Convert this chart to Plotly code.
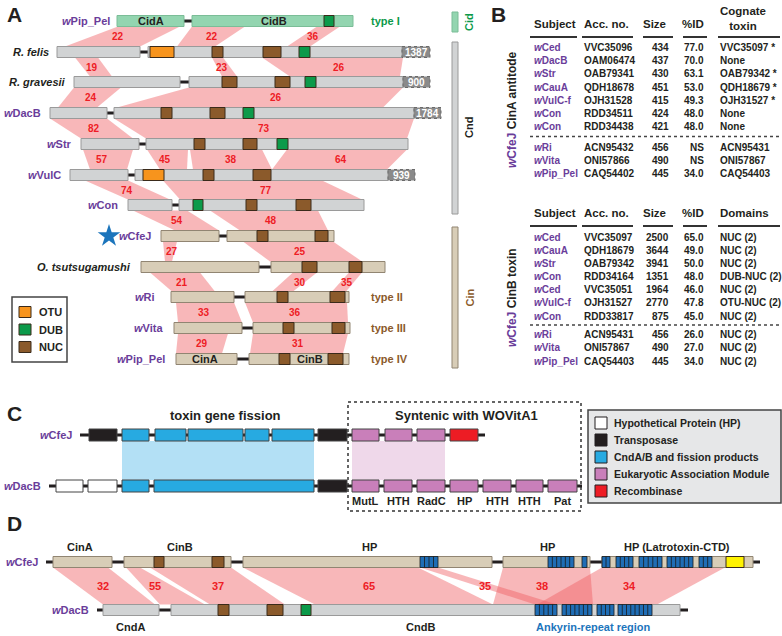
import plotly.graph_objects as go

# ---------------- DATA ----------------
# Panel A: rows (label, is_wolbachia, family)
A_names = ["<i>w</i>Pip_Pel", "<i>R. felis</i>", "<i>R. gravesii</i>", "<i>w</i>DacB", "<i>w</i>Str",
           "<i>w</i>VulC", "<i>w</i>Con", "<i>w</i>CfeJ", "<i>O. tsutsugamushi</i>", "<i>w</i>Ri",
           "<i>w</i>Vita", "<i>w</i>Pip_Pel"]
A_wol = [1, 0, 0, 1, 1, 1, 1, 1, 0, 1, 1, 1]
A_family = ["cid", "cnd", "cnd", "cnd", "cnd", "cnd", "cnd", "cin", "cin", "cin", "cin", "cin"]
A_rowpos = [21, 52, 82, 113, 144, 175, 205, 236, 267, 297, 328, 359]
A_label_gap = [5, 6, 6, 7, 7, 7, 8, 8, 8, 14, 9, 9]
# genes: (row, start, end)
A_genes = [(0, 117, 184), (0, 192, 353), (1, 57, 140), (1, 148, 402), (2, 74, 180), (2, 189, 403),
           (3, 50, 107), (3, 114, 414), (4, 81, 139), (4, 146, 408), (5, 70, 128), (5, 135, 388),
           (6, 128, 172), (6, 179, 364), (7, 161, 219), (7, 227, 334), (8, 141, 259), (8, 271, 385),
           (9, 171, 234), (9, 245, 349), (10, 174, 242), (10, 253, 350), (11, 176, 237), (11, 249, 349)]
A_gene_names = [(0, 151, "CidA"), (0, 274, "CidB"), (11, 205, "CinA"), (11, 310, "CinB")]
# domains: (row, start, end, type)
A_domains = [(0, 324, 334, "DUB"),
             (1, 150, 174, "OTU"), (1, 212, 223, "NUC"), (1, 263, 281, "NUC"), (1, 299, 310, "DUB"),
             (2, 222, 237, "NUC"), (2, 275, 290, "NUC"), (2, 305, 316, "DUB"),
             (3, 161, 172, "NUC"), (3, 210, 225, "NUC"), (3, 243, 254, "DUB"),
             (4, 194, 205, "NUC"), (4, 243, 257, "NUC"), (4, 277, 288, "DUB"),
             (5, 143, 164, "OTU"), (5, 203, 214, "NUC"), (5, 253, 271, "NUC"),
             (6, 193, 203, "DUB"), (6, 246, 257, "NUC"), (6, 296, 311, "NUC"),
             (7, 257, 268, "NUC"), (7, 315, 328, "NUC"),
             (8, 302, 317, "NUC"), (8, 349, 362, "NUC"),
             (9, 277, 288, "NUC"), (9, 330, 345, "NUC"),
             (10, 283, 294, "NUC"), (10, 332, 345, "NUC"),
             (11, 279, 290, "NUC"), (11, 328, 343, "NUC")]
A_sizes = [(1, 402, 430, "1387"), (2, 403, 430, "900"), (3, 414, 441, "1784"), (5, 388, 415, "939")]
# links between consecutive rows: (top row, top x0, top x1, bottom x0, bottom x1, %id, label x)
A_links = [(0, 118, 180, 65, 140, 22, 118), (0, 192, 245, 177, 215, 22, 212), (0, 317, 340, 287, 310, 36, 313),
           (1, 75, 98, 90, 112, 19, 92), (1, 212, 223, 222, 237, 23, 222), (1, 262, 403, 290, 400, 26, 339),
           (2, 74, 121, 58, 97, 24, 91), (2, 189, 403, 117, 383, 26, 276),
           (3, 50, 107, 81, 133, 82, 94), (3, 114, 414, 146, 407, 73, 264),
           (4, 83, 133, 90, 127, 57, 102), (4, 147, 188, 160, 187, 45, 165),
           (4, 190, 262, 193, 272, 38, 231), (4, 287, 407, 272, 387, 64, 341),
           (5, 85, 128, 128, 170, 74, 127), (5, 163, 322, 180, 362, 77, 266),
           (6, 133, 187, 175, 219, 54, 177), (6, 210, 318, 240, 328, 48, 271),
           (7, 163, 177, 165, 172, 27, 172), (7, 243, 333, 270, 362, 25, 300),
           (8, 150, 200, 172, 215, 21, 182), (8, 293, 317, 272, 293, 30, 300), (8, 349, 362, 332, 346, 35, 347),
           (9, 176, 234, 178, 242, 33, 204), (9, 245, 347, 253, 348, 36, 295),
           (10, 178, 228, 176, 222, 29, 202), (10, 253, 348, 250, 343, 31, 298)]
A_types = [(0, "type I", "cid"), (9, "type II", "cin"), (10, "type III", "cin"), (11, "type IV", "cin")]

# Panel B tables
B1_subject = ["wCed", "wDacB", "wStr", "wCauA", "wVulC-f", "wCon", "wCon", "wRi", "wVita", "wPip_Pel"]
B1_acc = ["VVC35096", "OAM06474", "OAB79341", "QDH18678", "OJH31528", "RDD34511", "RDD34438",
          "ACN95432", "ONI57866", "CAQ54402"]
B1_size = [434, 437, 430, 451, 415, 424, 421, 456, 490, 445]
B1_id = ["77.0", "70.0", "63.1", "53.0", "49.3", "48.0", "48.0", "NS", "NS", "34.0"]
B1_cog = ["VVC35097 *", "None", "OAB79342 *", "QDH18679 *", "OJH31527 *", "None", "None",
          "ACN95431", "ONI57867", "CAQ54403"]
B2_subject = ["wCed", "wCauA", "wStr", "wCon", "wCed", "wVulC-f", "wCon", "wRi", "wVita", "wPip_Pel"]
B2_acc = ["VVC35097", "QDH18679", "OAB79342", "RDD34164", "VVC35051", "OJH31527", "RDD33817",
          "ACN95431", "ONI57867", "CAQ54403"]
B2_size = [2500, 3644, 3941, 1351, 1964, 2770, 875, 456, 490, 445]
B2_id = ["65.0", "49.0", "50.0", "48.0", "46.0", "47.8", "45.0", "26.0", "27.0", "34.0"]
B2_dom = ["NUC (2)", "NUC (2)", "NUC (2)", "DUB-NUC (2)", "NUC (2)", "OTU-NUC (2)", "NUC (2)",
          "NUC (2)", "NUC (2)", "NUC (2)"]

# Panel C
C_names = ["<i>w</i>CfeJ", "<i>w</i>DacB"]
C_rowpos = [435, 486]
C_lines = [(0, 80, 485), (1, 49, 582)]
C_genes = [(0, 89, 117, "T"), (0, 122, 149, "B"), (0, 155, 186, "B"), (0, 188, 243, "B"), (0, 245, 269, "B"),
           (0, 272, 314, "B"), (0, 318, 347, "T"), (0, 352, 379, "E"), (0, 385, 412, "E"), (0, 417, 445, "E"),
           (0, 450, 478, "R"),
           (1, 56, 83, "H"), (1, 88, 117, "H"), (1, 122, 149, "B"), (1, 154, 314, "B"), (1, 318, 347, "T"),
           (1, 352, 379, "E"), (1, 384, 412, "E"), (1, 417, 445, "E"), (1, 450, 478, "E"), (1, 483, 511, "E"),
           (1, 516, 543, "E"), (1, 548, 577, "E")]
C_module_names = ["MutL", "HTH", "RadC", "HP", "HTH", "HTH", "Pat"]
C_legend = [("H", "Hypothetical Protein (HP)"), ("T", "Transposase"), ("B", "CndA/B and fission products"),
            ("E", "Eukaryotic Association Module"), ("R", "Recombinase")]

# Panel D
D_names = ["<i>w</i>CfeJ", "<i>w</i>DacB"]
D_rowpos = [562, 610]
D_lines = [(0, 46, 760), (1, 97, 688)]
D_genes = [(0, 53, 112, "cin"), (0, 124, 231, "cin"), (0, 243, 492, "cin"), (0, 503, 590, "cin"),
           (0, 602, 753, "cin"), (1, 103, 159, "cnd"), (1, 171, 680, "cnd")]
D_domains = [(0, 154, 164, "NUC"), (0, 212, 224, "NUC"), (0, 726, 744, "CTD"),
             (0, 420, 438, "ANK"), (0, 548, 574, "ANK"), (0, 582, 587, "ANK"), (0, 602, 610, "ANK"),
             (0, 616, 633, "ANK"), (0, 639, 662, "ANK"), (0, 667, 693, "ANK"), (0, 699, 712, "ANK"),
             (1, 218, 229, "NUC"), (1, 267, 283, "NUC"), (1, 301, 311, "DUB"),
             (1, 535, 557, "ANK"), (1, 562, 592, "ANK"), (1, 597, 614, "ANK"), (1, 618, 652, "ANK")]
D_links = [(53, 108, 103, 155, 32, 103), (126, 140, 160, 205, 55, 155), (150, 231, 210, 285, 37, 218),
           (243, 418, 315, 493, 65, 369), (420, 438, 535, 557, 35, 485), (503, 590, 493, 593, 38, 542),
           (602, 725, 537, 657, 34, 629)]
D_top_labels = [(80, "CinA"), (180, "CinB"), (369, "HP"), (547, "HP"), (677, "HP (Latrotoxin-CTD)")]
D_bot_labels = [(130, "CndA"), (420, "CndB")]

# ---------------- STYLE ----------------
FONT = "Liberation Sans, Arial, Helvetica, sans-serif"
PURPLE = "#6a3d9a"
RED = "#ee1c25"
LINK = "rgba(240,95,100,0.45)"
FAM_FILL = {"cid": "#93d5b0", "cnd": "#d1d3d4", "cin": "#d8cdb7"}
FAM_LINE = {"cid": "#7bbd97", "cnd": "#9a9a9a", "cin": "#918572"}
DOM_FILL = {"NUC": "#8b5a2b", "DUB": "#0c9a4a", "OTU": "#f7941d", "CTD": "#fff200", "ANK": "#1f6db5"}
TYPE_COL = {"cid": "#0c9a4a", "cin": "#8b5a2b"}
C_FILL = {"H": "#ffffff", "T": "#231f20", "B": "#27aae1", "E": "#c97fba", "R": "#ed1c24"}

shapes = []
ann = []


def rect(x0, x1, y0, y1, fill, lc="#888", lw=1, dash="solid"):
    shapes.append(dict(type="rect", xref="x", yref="y", x0=x0, x1=x1, y0=y0, y1=y1,
                       fillcolor=fill, line=dict(color=lc, width=lw, dash=dash)))


def line(x0, y0, x1, y1, color="#231f20", w=3, dash="solid"):
    shapes.append(dict(type="line", xref="x", yref="y", x0=x0, x1=x1, y0=y0, y1=y1,
                       line=dict(color=color, width=w, dash=dash)))


def poly(pts, fill):
    path = "M " + " L ".join(f"{x},{y}" for x, y in pts) + " Z"
    shapes.append(dict(type="path", xref="x", yref="y", path=path, fillcolor=fill, line=dict(width=0)))


def text(x, y, s, size=10, color="#231f20", anchor="center", bold=True, angle=0):
    t = f"<b>{s}</b>" if bold else s
    ann.append(dict(x=x, y=y, xref="x", yref="y", text=t, showarrow=False, xanchor=anchor,
                    yanchor="middle", textangle=angle, font=dict(family=FONT, size=size, color=color)))


H = 11  # bar height

# ---------------- PANEL A ----------------
text(14, 14, "A", 21)
for (r, x0t, x1t, x0b, x1b, pct, lx) in A_links:
    yt = A_rowpos[r] + H / 2
    yb = A_rowpos[r + 1] - H / 2
    poly([(x0t, yt), (x1t, yt), (x1b, yb), (x0b, yb)], LINK)
    text(lx, (A_rowpos[r] + A_rowpos[r + 1]) / 2, str(pct), 10, RED)
for r in range(len(A_names)):
    xs = [g for g in A_genes if g[0] == r]
    line(min(g[1] for g in xs), A_rowpos[r], max(g[2] for g in xs), A_rowpos[r])
for (r, x0, x1) in A_genes:
    f = A_family[r]
    rect(x0, x1, A_rowpos[r] - H / 2, A_rowpos[r] + H / 2, FAM_FILL[f], FAM_LINE[f])
for (r, x0, x1, t) in A_domains:
    rect(x0, x1, A_rowpos[r] - H / 2, A_rowpos[r] + H / 2, DOM_FILL[t], "#3a2a1a")
for (r, x0, x1, s) in A_sizes:
    rect(x0, x1, A_rowpos[r] - H / 2, A_rowpos[r] + H / 2, "#8a8a8a", "#6a6a6a", 1, "dot")
    text((x0 + x1) / 2, A_rowpos[r], s, 10, "white")
for (r, x, s) in A_gene_names:
    text(x, A_rowpos[r], s, 11, "#231f20")
for r, name in enumerate(A_names):
    start = min(g[1] for g in A_genes if g[0] == r)
    col = PURPLE if A_wol[r] else "#231f20"
    text(start - A_label_gap[r], A_rowpos[r], name, 11, col, "right")
for (r, s, f) in A_types:
    text(369, A_rowpos[r], s, 11, TYPE_COL[f], "left")
# family brackets
for (y0, y1, f, lab, col) in [(12, 32, "cid", "Cid", "#0c9a4a"), (42, 214, "cnd", "Cnd", "#231f20"),
                              (227, 368, "cin", "Cin", "#8b5a2b")]:
    rect(452, 458, y0, y1, FAM_FILL[f], FAM_LINE[f])
    text(469, (y0 + y1) / 2, lab, 11, col, angle=-90)
# legend A
rect(12, 67, 297, 362, "white", "#444", 1.5)
for i, t in enumerate(["OTU", "DUB", "NUC"]):
    yy = 312 + i * 17.5
    rect(19, 31, yy - 5.5, yy + 5.5, DOM_FILL[t], "#3a2a1a")
    text(37, yy, t, 11, "#231f20", "left")

# ---------------- PANEL B ----------------
text(498, 14, "B", 21)
under = [(530, 577), (582, 633), (643, 673), (683, 707), (718, 780)]


def table(top, subj, acc, size, pid, last, last_head, rows_y, dot_y, label_y, label_txt):
    hy = top
    text(532, hy, "Subject", 11.5, anchor="left")
    text(582, hy, "Acc. no.", 11.5, anchor="left")
    text(668, hy, "Size", 11.5, anchor="right")
    text(706, hy, "%ID", 11.5, anchor="right")
    if "<br>" in last_head:
        text(718, hy - 5.5, last_head, 11.5, anchor="left")
    else:
        text(718, hy, last_head, 11.5, anchor="left")
    for (a, b) in under:
        line(a, hy + 13, b, hy + 13, "#333", 2)
    for i, y in enumerate(rows_y):
        text(532, y, f"<i>w</i>{subj[i][1:]}", 10, PURPLE, "left")
        text(582, y, acc[i], 10, "#231f20", "left")
        text(671, y, str(size[i]), 10, "#231f20", "right")
        text(706, y, pid[i], 10, "#231f20", "right")
        text(718, y, last[i], 10, "#231f20", "left")
    line(530, dot_y, 780, dot_y, "#444", 1.5, "dot")
    ann.append(dict(x=512, y=label_y, xref="x", yref="y", showarrow=False, textangle=-90,
                    xanchor="center", yanchor="middle",
                    text=f"<b><span style='color:{PURPLE}'><i>w</i>CfeJ</span> {label_txt}</b>",
                    font=dict(family=FONT, size=12, color="#231f20")))


table(24, B1_subject, B1_acc, B1_size, B1_id, B1_cog, "Cognate<br>toxin",
      [47, 60, 73, 87, 100, 113, 126, 147, 160, 173], 136.5, 110, "CinA antitode")
table(213, B2_subject, B2_acc, B2_size, B2_id, B2_dom, "Domains",
      [237, 250, 263, 276, 289, 302, 316, 334, 347, 361], 325, 298, "CinB toxin")

# ---------------- PANEL C ----------------
text(14, 413, "C", 21)
text(225, 415, "toxin gene fission", 13)
text(466, 415, "Syntenic with WOVitA1", 13)
rect(348, 581, 402, 511, "rgba(0,0,0,0)", "#333", 1.5, "dot")
rect(122, 314, C_rowpos[0] + 6, C_rowpos[1] - 6, "#b3e0f5", "rgba(0,0,0,0)", 0)
rect(352, 445, C_rowpos[0] + 6, C_rowpos[1] - 6, "#efd8ea", "rgba(0,0,0,0)", 0)
for (r, x0, x1) in C_lines:
    line(x0, C_rowpos[r], x1, C_rowpos[r])
for (r, x0, x1, t) in C_genes:
    rect(x0, x1, C_rowpos[r] - 6, C_rowpos[r] + 6, C_FILL[t], "#444")
mods = [g for g in C_genes if g[0] == 1 and g[3] == "E"]
for g, nm in zip(mods, C_module_names):
    text((g[1] + g[2]) / 2, 501, nm, 11)
for r, nm in enumerate(C_names):
    start = min(l[1] for l in C_lines if l[0] == r)
    text(start - 6, C_rowpos[r], nm, 11, PURPLE, "right")
rect(588, 781, 410, 503, "#e6e7e8", "#444", 1.5)
for i, (k, lab) in enumerate(C_legend):
    yy = 423 + i * 17
    rect(595, 607, yy - 6, yy + 6, C_FILL[k], "#231f20")
    text(612, yy, lab, 10.5, "#231f20", "left")

# ---------------- PANEL D ----------------
text(14, 523, "D", 21)
for (x0t, x1t, x0b, x1b, pct, lx) in D_links:
    yt = D_rowpos[0] + H / 2
    yb = D_rowpos[1] - H / 2
    poly([(x0t, yt), (x1t, yt), (x1b, yb), (x0b, yb)], LINK)
    text(lx, 586, str(pct), 11, RED)
for (r, x0, x1) in D_lines:
    line(x0, D_rowpos[r], x1, D_rowpos[r])
for (r, x0, x1, f) in D_genes:
    rect(x0, x1, D_rowpos[r] - H / 2, D_rowpos[r] + H / 2, FAM_FILL[f], FAM_LINE[f])
for (r, x0, x1, t) in D_domains:
    y0, y1 = D_rowpos[r] - H / 2, D_rowpos[r] + H / 2
    if t == "ANK":
        rect(x0, x1, y0, y1, DOM_FILL[t], "#1a1a1a", 0.8)
        n = max(1, round((x1 - x0) / 4.5))
        for k in range(1, n):
            xx = x0 + k * (x1 - x0) / n
            line(xx, y0, xx, y1, "#1a1a1a", 0.8)
    else:
        rect(x0, x1, y0, y1, DOM_FILL[t], "#3a2a1a")
for r, nm in enumerate(D_names):
    start = min(l[1] for l in D_lines if l[0] == r)
    text(start - 6, D_rowpos[r], nm, 11, PURPLE, "right")
for (x, s) in D_top_labels:
    text(x, 547, s, 11)
for (x, s) in D_bot_labels:
    text(x, 627, s, 11)
text(593, 627, "Ankyrin-repeat region", 11, "#1c75bc")

fig = go.Figure()
fig.add_trace(go.Scatter(x=[109], y=[236], mode="markers", hoverinfo="skip",
                         marker=dict(symbol="star", size=17, color="#1c75bc"), showlegend=False))
fig.update_layout(width=782, height=636, margin=dict(l=0, r=0, t=0, b=0),
                  paper_bgcolor="white", plot_bgcolor="white", shapes=shapes, annotations=ann,
                  xaxis=dict(range=[0, 782], visible=False, fixedrange=True),
                  yaxis=dict(range=[636, 0], visible=False, fixedrange=True),
                  showlegend=False)
fig.write_html("out.html", config={"displayModeBar": False},
               post_script="document.body.style.margin='0px';")
